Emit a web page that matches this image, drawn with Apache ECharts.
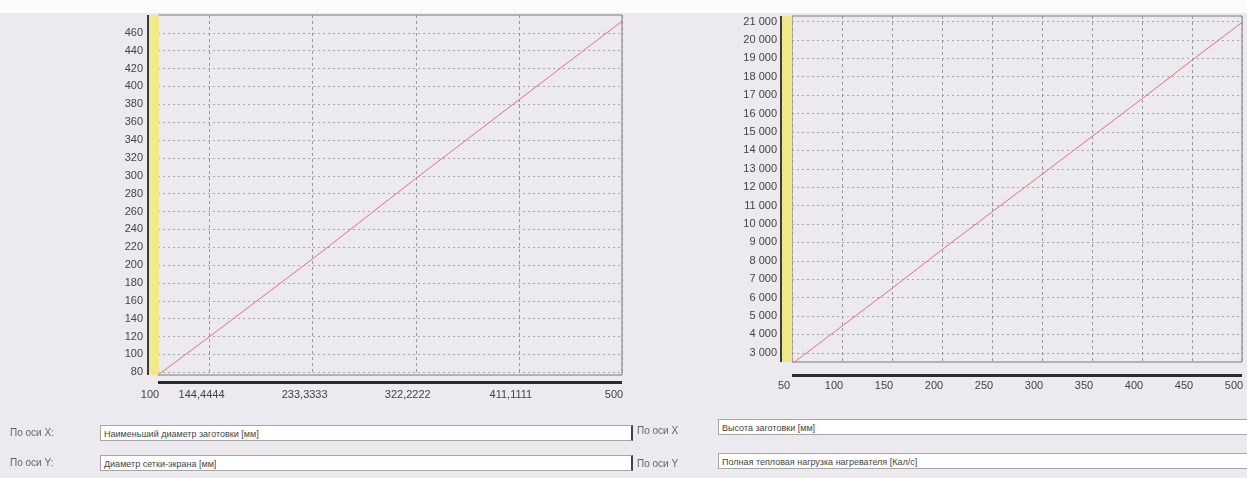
<!DOCTYPE html>
<html>
<head>
<meta charset="utf-8">
<script src="https://cdn.jsdelivr.net/npm/echarts@6/dist/echarts.min.js"></script>
<style>
  html, body { margin: 0; padding: 0; background: #ece9ef; }
  #wrap { position: relative; width: 1247px; height: 478px; overflow: hidden; font-family: "Liberation Sans", Arial, sans-serif; }
  #topstrip { position: absolute; left: 0; top: 0; width: 1247px; height: 13px; background: #fbfbfc; }
  #chart { position: absolute; left: 0; top: 0; width: 1247px; height: 478px; }
  .lbl { position: absolute; font-size: 10px; color: #666; }
  .box { position: absolute; height: 16px; background: #fff; border: 1px solid #a7a7a7; border-right: 2px solid #444;
         font-size: 9px; color: #444; line-height: 16px; padding-left: 3px; box-sizing: border-box; white-space: nowrap; }
</style>
</head>
<body>
<div id="wrap">
  <div id="topstrip"></div>
  <div id="chart"></div>
  <div class="lbl" style="left:10px; top:427px;">По оси X:</div>
  <div class="lbl" style="left:10px; top:457px;">По оси Y:</div>
  <div class="box" style="left:100px; top:425px; width:533px;">Наименьший диаметр заготовки [мм]</div>
  <div class="box" style="left:100px; top:455px; width:533px;">Диаметр сетки-экрана [мм]</div>
  <div class="lbl" style="left:637px; top:425px;">По оси X</div>
  <div class="lbl" style="left:637px; top:458px;">По оси Y</div>
  <div class="box" style="left:718px; top:419px; width:529px; border-right:none;">Высота заготовки [мм]</div>
  <div class="box" style="left:718px; top:453px; width:529px; border-right:none;">Полная тепловая нагрузка нагревателя [Кал/с]</div>
</div>
<script>
// левый график: диаметр сетки-экрана от наименьшего диаметра заготовки
const leftX = [100, 144.4444, 233.3333, 322.2222, 411.1111, 500];
const leftY = [77, 120, 207, 297, 385, 473];
const leftYTicks = [80, 100, 120, 140, 160, 180, 200, 220, 240, 260, 280, 300, 320, 340, 360, 380, 400, 420, 440, 460];

// правый график: тепловая нагрузка от высоты заготовки
const rightX = [50, 100, 150, 200, 250, 300, 350, 400, 450, 500];
const rightY = [2400, 4450, 6500, 8600, 10650, 12700, 14750, 16800, 18900, 20950];
const rightYTicks = [3000, 4000, 5000, 6000, 7000, 8000, 9000, 10000, 11000, 12000,
  13000, 14000, 15000, 16000, 17000, 18000, 19000, 20000, 21000];

const labelFont = { color: "#444", fontSize: 11, fontFamily: "Liberation Sans" };
const gridDashY = { color: "#a9a7ad", width: 1, type: [2, 3] };
const gridDashX = { color: "#9a989e", width: 1, type: [3, 3] };
const wallLine = { color: "#efe98a", width: 10, cap: "butt", shadowColor: "#3c3c3c", shadowOffsetX: -2, shadowBlur: 0 };
const floorLine = { color: "#2b2b2b", width: 3, cap: "butt" };
const redLine = { color: "#d9767c", width: 1 };

const commaFmt = (v) => (Math.abs(v - Math.round(v)) < 1e-6 ? String(Math.round(v)) : v.toFixed(4).replace(".", ","));
const spaceFmt = (v) => String(v).replace(/\B(?=(\d{3})+(?!\d))/g, " ");

const chart = echarts.init(document.getElementById("chart"));
chart.setOption({
  animation: false,
  grid: [
    { left: 158, right: 625, top: 15, bottom: 103, show: true, borderColor: "#7a7a7a", borderWidth: 1, backgroundColor: "transparent" },
    { left: 792, right: 5, top: 16, bottom: 116, show: true, borderColor: "#7a7a7a", borderWidth: 1, backgroundColor: "transparent" },
  ],
  xAxis: [
    {
      gridIndex: 0, type: "value", min: 100, max: 500, offset: 7,
      axisLine: { lineStyle: floorLine },
      axisTick: { show: false, customValues: leftX },
      axisLabel: { ...labelFont, customValues: leftX, margin: 7, padding: [0, 16, 0, 0], formatter: commaFmt },
      splitLine: { show: true, lineStyle: gridDashX },
    },
    {
      gridIndex: 1, type: "value", min: 50, max: 500, interval: 50, offset: 13,
      axisLine: { lineStyle: floorLine },
      axisTick: { show: false },
      axisLabel: { ...labelFont, margin: 5, padding: [0, 16, 0, 0], showMaxLabel: true },
      splitLine: { show: true, lineStyle: gridDashX },
    },
  ],
  yAxis: [
    {
      gridIndex: 0, type: "value", min: 77, max: 480, offset: 4,
      axisLine: { show: true, lineStyle: wallLine },
      axisTick: { show: false, customValues: leftYTicks },
      axisLabel: { ...labelFont, customValues: leftYTicks, margin: 11, padding: [12, 0, 0, 0] },
      splitLine: { show: true, lineStyle: gridDashY },
    },
    {
      gridIndex: 1, type: "value", min: 2500, max: 21300, offset: 5,
      axisLine: { show: true, lineStyle: wallLine },
      axisTick: { show: false, customValues: rightYTicks },
      axisLabel: { ...labelFont, customValues: rightYTicks, margin: 10, padding: [12, 0, 0, 0], formatter: spaceFmt },
      splitLine: { show: true, lineStyle: gridDashY },
    },
  ],
  series: [
    {
      type: "line", xAxisIndex: 0, yAxisIndex: 0, symbol: "none", silent: true,
      lineStyle: redLine, data: leftX.map((x, i) => [x, leftY[i]]),
    },
    {
      type: "line", xAxisIndex: 1, yAxisIndex: 1, symbol: "none", silent: true,
      lineStyle: redLine, data: rightX.map((x, i) => [x, rightY[i]]),
    },
  ],
});
</script>
</body>
</html>
